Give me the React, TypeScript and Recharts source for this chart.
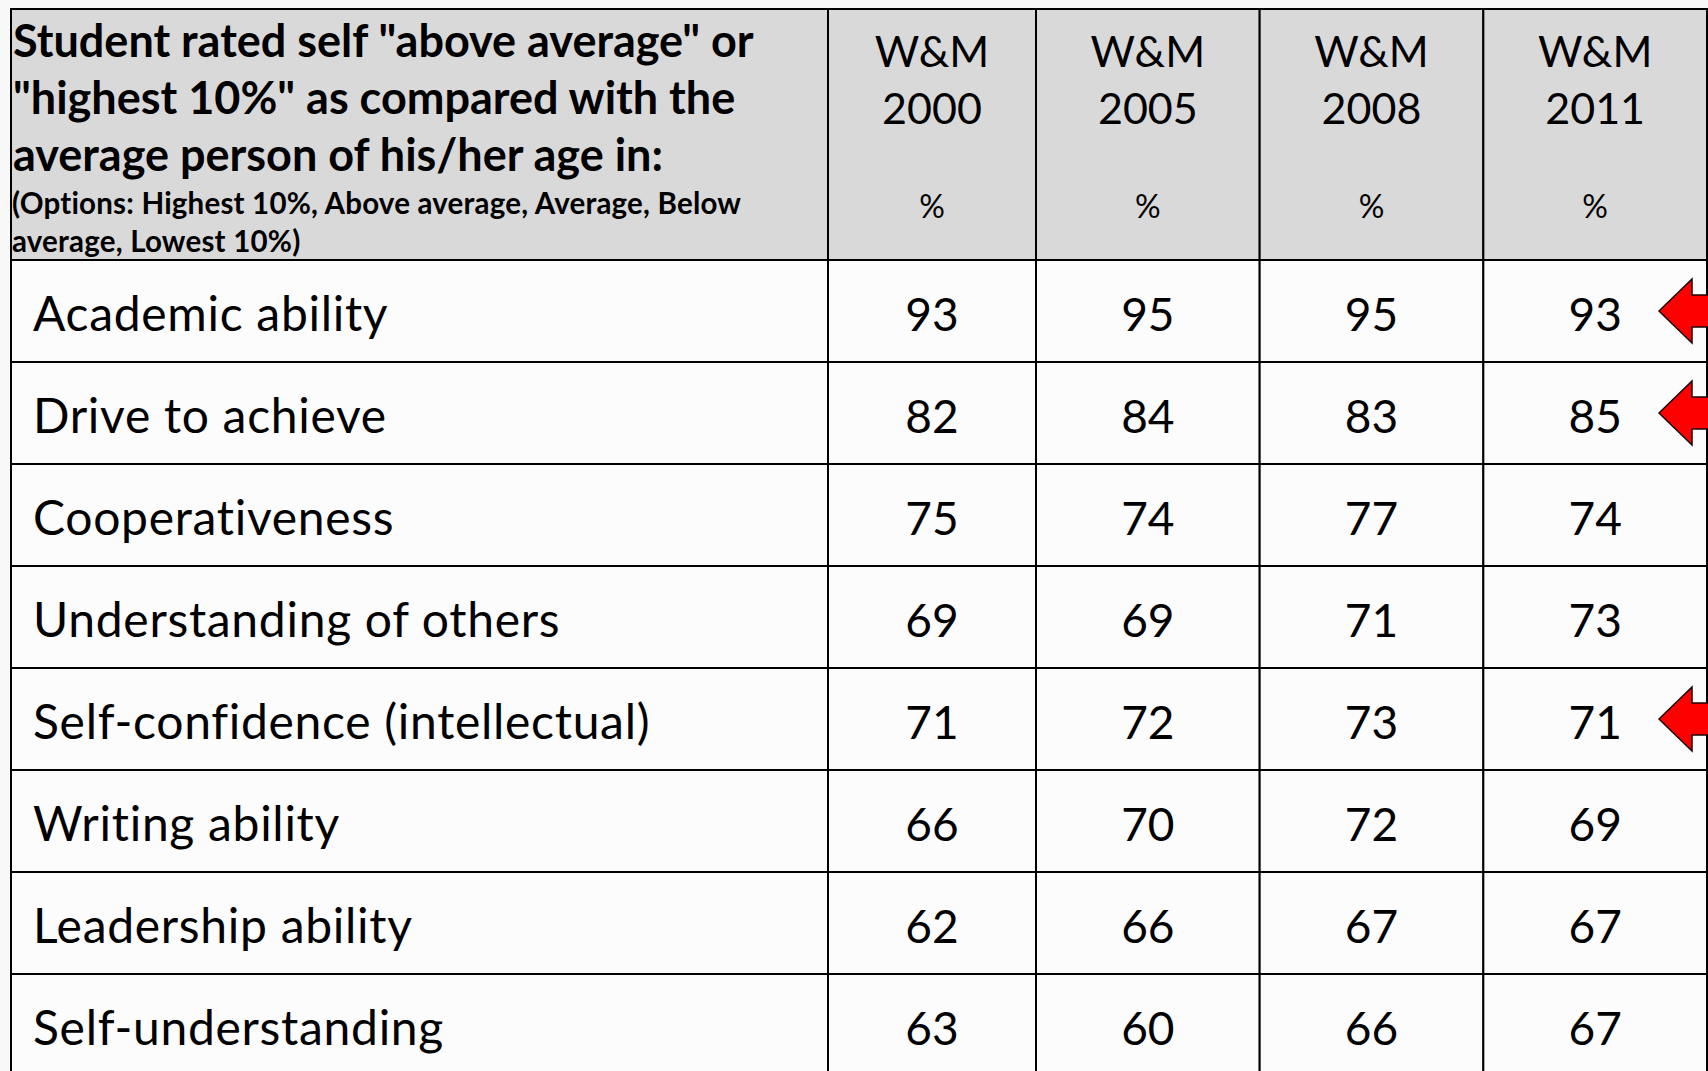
import { BarChart, Bar, XAxis, YAxis } from 'recharts';

const ROWS = [
  'Academic ability',
  'Drive to achieve',
  'Cooperativeness',
  'Understanding of others',
  'Self-confidence (intellectual)',
  'Writing ability',
  'Leadership ability',
  'Self-understanding',
];

const YEARS = ['2000', '2005', '2008', '2011'];

const WM_2000 = [93, 82, 75, 69, 71, 66, 62, 63];
const WM_2005 = [95, 84, 74, 69, 72, 70, 66, 60];
const WM_2008 = [95, 83, 77, 71, 73, 72, 67, 66];
const WM_2011 = [93, 85, 74, 73, 71, 69, 67, 67];

// rows marked with the red arrow on the right
const FLAGGED = ['Academic ability', 'Drive to achieve', 'Self-confidence (intellectual)'];

const TITLE_LINES = [
  'Student rated self "above average" or',
  '"highest 10%" as compared with the',
  'average person of his/her age in:',
];
const TITLE_NOTE = [
  '(Options: Highest 10%, Above average, Average, Below',
  'average, Lowest 10%)',
];

const FONT = 'Lato, "Open Sans", sans-serif';
const LEFT = 11;
const TOP = 9;
const HEADER_H = 251;
// relative column widths (first year column is a bit narrower)
const COL_UNITS = [0.93, 1, 1, 1];
const TOTAL_UNITS = COL_UNITS.reduce((a, b) => a + b, 0);
const COL_CENTERS = COL_UNITS.map((u, i) => COL_UNITS.slice(0, i).reduce((a, b) => a + b, 0) + u / 2);

const data = ROWS.map((label, i) => ({
  label,
  y2000: WM_2000[i],
  y2005: WM_2005[i],
  y2008: WM_2008[i],
  y2011: WM_2011[i],
}));

function HeaderTick(props: any) {
  const { x, y, index, width } = props;
  const unitW = width ? width / TOTAL_UNITS : 224;
  const colW = COL_UNITS[index] * unitW;
  const top = y - HEADER_H;
  const left = x - colW / 2;
  return (
    <g>
      {index === 0 && (
        <g>
          <rect x={LEFT} y={top} width={left - LEFT} height={HEADER_H} fill="#d9d9d9" stroke="#000" strokeWidth={2} />
          {TITLE_LINES.map((t, i) => (
            <text key={t} x={LEFT + 2} y={top + 48 + i * 57} fontFamily={FONT} fontWeight={700} fontSize={45} fill="#000">
              {t}
            </text>
          ))}
          {TITLE_NOTE.map((t, i) => (
            <text key={t} x={LEFT + 1} y={top + 205 + i * 38} fontFamily={FONT} fontWeight={700} fontSize={29.5} letterSpacing={0.2} fill="#000">
              {t}
            </text>
          ))}
        </g>
      )}
      <rect x={left} y={top} width={colW} height={HEADER_H} fill="#d9d9d9" stroke="#000" strokeWidth={2} />
      <text x={x} y={top + 58} textAnchor="middle" fontFamily={FONT} fontSize={43} fill="#000">W&amp;M</text>
      <text x={x} y={top + 115} textAnchor="middle" fontFamily={FONT} fontSize={43} fill="#000">{YEARS[index]}</text>
      <text x={x} y={top + 209} textAnchor="middle" fontFamily={FONT} fontSize={32} fill="#000">%</text>
    </g>
  );
}

function LabelTick(props: any) {
  const { x, y, width, height, payload } = props;
  const bandH = height ? height / ROWS.length : (payload?.offset ? payload.offset * 2 : 102);
  const left = width ? x - width : LEFT;
  return (
    <g>
      <rect x={left} y={y - bandH / 2} width={x - left} height={bandH} fill="#fcfcfc" stroke="#000" strokeWidth={2} />
      <text x={left + 22} y={y + 20} fontFamily={FONT} fontSize={48} letterSpacing={0.7} fill="#000">
        {payload.value}
      </text>
    </g>
  );
}

function ValueCell(props: any, key: string, last: boolean) {
  const { x, y, width, height, payload } = props;
  const cx = x + width / 2;
  const cy = y + height / 2;
  const flagged = last && FLAGGED.includes(payload.label);
  const tip = x + width - 48;
  return (
    <g>
      <rect x={x} y={y} width={width} height={height} fill="#fcfcfc" stroke="#000" strokeWidth={2} />
      <text x={cx} y={cy + 20} textAnchor="middle" fontFamily={FONT} fontSize={46} fill="#000">
        {payload[key]}
      </text>
      {flagged && (
        <polygon
          points={`${tip},${cy} ${tip + 33},${cy - 32} ${tip + 33},${cy - 16} ${tip + 90},${cy - 16} ${tip + 90},${cy + 16} ${tip + 33},${cy + 16} ${tip + 33},${cy + 32}`}
          fill="#ff0000"
          stroke="#1a0000"
          strokeWidth={1.5}
        />
      )}
    </g>
  );
}

export default function App() {
  return (
    <div style={{ position: 'fixed', top: 0, left: 0, width: 1708, height: 1071, overflow: 'hidden', background: '#f8f8f8' }}>
      <BarChart
        width={1708}
        height={1076}
        data={data}
        layout="vertical"
        barCategoryGap={0}
        barGap={0}
        margin={{ top: TOP, right: 1, bottom: 0, left: LEFT }}
      >
        <XAxis
          type="number"
          orientation="top"
          domain={[0, TOTAL_UNITS]}
          ticks={COL_CENTERS}
          height={HEADER_H}
          tickSize={0}
          tickMargin={0}
          axisLine={false}
          tickLine={false}
          interval={0}
          tick={(p: any) => <HeaderTick {...p} />}
        />
        <YAxis
          type="category"
          dataKey="label"
          width={817}
          tickSize={0}
          tickMargin={0}
          axisLine={false}
          tickLine={false}
          interval={0}
          tick={(p: any) => <LabelTick {...p} />}
        />
        {YEARS.map((yr, i) => (
          <Bar
            key={yr}
            dataKey={() => COL_UNITS[i]}
            stackId="cells"
            isAnimationActive={false}
            shape={(p: any) => ValueCell(p, `y${yr}`, i === YEARS.length - 1)}
          />
        ))}
      </BarChart>
    </div>
  );
}
